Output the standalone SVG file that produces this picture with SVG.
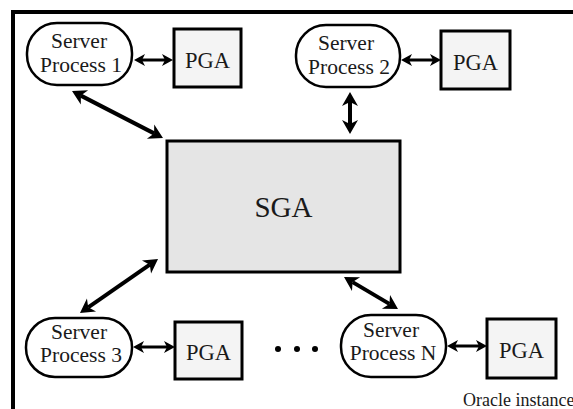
<svg xmlns="http://www.w3.org/2000/svg" width="573" height="409" viewBox="0 0 573 409">
<style>
text{font-family:"Liberation Serif","Times New Roman",serif;fill:#1a1a1a;text-anchor:middle}
.proc{fill:#ffffff;stroke:#000;stroke-width:2.5}
.pga{fill:#f4f4f4;stroke:#000;stroke-width:3}
.sga{fill:#e5e5e5;stroke:#000;stroke-width:3}
.lbl{font-size:22.5px}
.pl{font-size:21.5px}
.big{stroke:#000;stroke-width:4;fill:none;marker-start:url(#hb);marker-end:url(#hb)}
.sm{stroke:#000;stroke-width:3;fill:none;marker-start:url(#hs);marker-end:url(#hs)}
</style>
<defs>
<marker id="hb" markerUnits="userSpaceOnUse" markerWidth="14" markerHeight="16" refX="4" refY="8" orient="auto-start-reverse" overflow="visible">
<path d="M0,0 L14,8 L0,16 L4,8 z" fill="#000"/>
</marker>
<marker id="hs" markerUnits="userSpaceOnUse" markerWidth="11" markerHeight="12" refX="3" refY="6" orient="auto-start-reverse" overflow="visible">
<path d="M0,0 L11,6 L0,12 L3,6 z" fill="#000"/>
</marker>
</defs>
<rect x="0" y="0" width="573" height="409" fill="#ffffff"/>
<path id="frame" d="M13,409 V12 H573" fill="none" stroke="#000" stroke-width="4"/>
<g id="sga">
<rect class="sga" x="167" y="141" width="233" height="131"/>
<text x="283.5" y="217" style="font-size:29px">SGA</text>
</g>
<g id="sp1">
<rect class="proc" x="27" y="23" width="105" height="62" rx="30" ry="30"/>
<text class="pl" x="79" y="48">Server</text>
<text class="pl" x="81" y="72">Process 1</text>
</g>
<g id="pga1">
<rect class="pga" x="174" y="29" width="67" height="58"/>
<text class="lbl" x="207.5" y="68">PGA</text>
</g>
<g id="sp2">
<rect class="proc" x="296" y="25" width="104" height="62" rx="30" ry="30"/>
<text class="pl" x="346" y="50">Server</text>
<text class="pl" x="349" y="74">Process 2</text>
</g>
<g id="pga2">
<rect class="pga" x="441" y="31" width="69" height="58"/>
<text class="lbl" x="475.5" y="70">PGA</text>
</g>
<g id="sp3">
<rect class="proc" x="26" y="318" width="106" height="59" rx="29" ry="29"/>
<text class="pl" x="79" y="339">Server</text>
<text class="pl" x="81" y="362">Process 3</text>
</g>
<g id="pga3">
<rect class="pga" x="175" y="322" width="67" height="57"/>
<text class="lbl" x="208.5" y="360">PGA</text>
</g>
<g id="spn">
<rect class="proc" x="341" y="315" width="105" height="62" rx="30" ry="30"/>
<text class="pl" x="391" y="337">Server</text>
<text class="pl" x="393" y="360">Process N</text>
</g>
<g id="pgan">
<rect class="pga" x="487" y="319" width="69" height="59"/>
<text class="lbl" x="521.5" y="358">PGA</text>
</g>
<g id="ellipsis" fill="#000">
<circle cx="278" cy="349" r="3"/>
<circle cx="297" cy="349" r="3"/>
<circle cx="315" cy="349" r="3"/>
</g>
<g id="connectors">
<line class="big" x1="80.9" y1="95.6" x2="154.1" y2="133.4"/>
<line class="big" x1="350" y1="102" x2="350" y2="124"/>
<line class="big" x1="149.8" y1="264.7" x2="88.2" y2="307.3"/>
<line class="big" x1="352.6" y1="282.1" x2="389.4" y2="303.9"/>
<line class="sm" x1="142" y1="60" x2="165" y2="60"/>
<line class="sm" x1="409" y1="60" x2="433" y2="60"/>
<line class="sm" x1="141" y1="347" x2="167" y2="347"/>
<line class="sm" x1="455" y1="346" x2="479" y2="346"/>
</g>
<text id="caption" x="463" y="406" style="font-size:18px;text-anchor:start">Oracle instance</text>
</svg>
